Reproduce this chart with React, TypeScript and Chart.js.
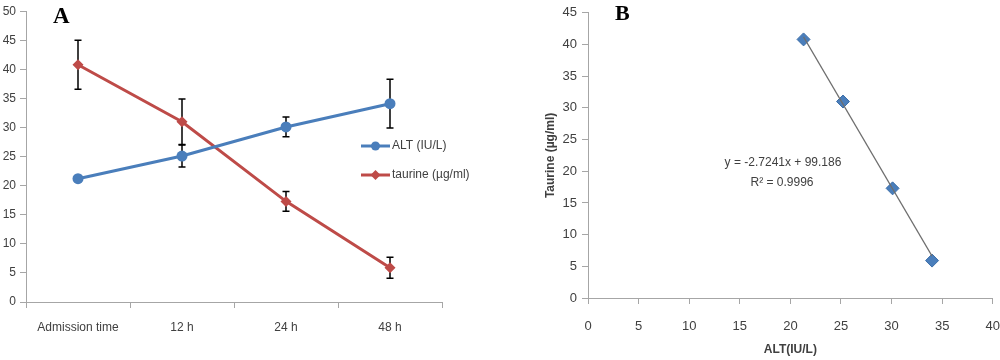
import React, { useEffect, useRef } from "react";
import { Chart, registerables } from "chart.js";

Chart.register(...registerables);

// ---------- Data ----------
const categories = ["Admission time", "12 h", "24 h", "48 h"];
const altValues = [21.2, 25.1, 30.1, 34.1];
const altErrors = [0.3, 1.9, 1.7, 4.2];
const taurineValues = [40.8, 31.0, 17.3, 5.9];
const taurineErrors = [4.2, 3.9, 1.7, 1.8];

const scatterAlt = [21.3, 25.2, 30.1, 34.0];
const scatterTaurine = [40.8, 31.0, 17.3, 5.9];
const trendAlt = [21.3, 34.0];
const trendTaurine = [41.2, 6.6];

const legendLabels = ["ALT (IU/L)", "taurine (µg/ml)"];
const equationText = "y = -2.7241x + 99.186";
const r2Text = "R² = 0.9996";

// ---------- Styles ----------
const FONT = '"Liberation Sans Narrow", "Liberation Sans", Arial, sans-serif';
const SERIF = '"Liberation Serif", "DejaVu Serif", serif';
const BLUE = "#4A7EBB";
const RED = "#BE4B48";
const AXIS = "#A6A6A6";
const TEXT = "#404040";

const errorBarPlugin = {
  id: "errorBars",
  beforeDatasetsDraw(chart: any) {
    const { ctx, scales } = chart;
    const xs = scales.x;
    const ys = scales.y;
    const series = [
      [altValues, altErrors],
      [taurineValues, taurineErrors],
    ];
    ctx.save();
    ctx.strokeStyle = "#000";
    ctx.lineWidth = 1.5;
    series.forEach(([vals, errs]) => {
      vals.forEach((v: number, i: number) => {
        const px = xs.getPixelForValue(i);
        const top = ys.getPixelForValue(v + errs[i]);
        const bot = ys.getPixelForValue(v - errs[i]);
        ctx.beginPath();
        ctx.moveTo(px, top);
        ctx.lineTo(px, bot);
        ctx.moveTo(px - 3.5, top);
        ctx.lineTo(px + 3.5, top);
        ctx.moveTo(px - 3.5, bot);
        ctx.lineTo(px + 3.5, bot);
        ctx.stroke();
      });
    });
    ctx.restore();
  },
};

const legendAPlugin = {
  id: "legendA",
  afterDraw(chart: any) {
    const { ctx } = chart;
    ctx.save();
    const rows = [
      { y: 146, color: BLUE, label: legendLabels[0], shape: "circle" },
      { y: 175, color: RED, label: legendLabels[1], shape: "diamond" },
    ];
    rows.forEach((r) => {
      ctx.strokeStyle = r.color;
      ctx.lineWidth = 3;
      ctx.beginPath();
      ctx.moveTo(361, r.y);
      ctx.lineTo(390, r.y);
      ctx.stroke();
      ctx.fillStyle = r.color;
      ctx.beginPath();
      if (r.shape === "circle") {
        ctx.arc(375.5, r.y, 4.5, 0, Math.PI * 2);
      } else {
        ctx.moveTo(375.5, r.y - 5);
        ctx.lineTo(380.5, r.y);
        ctx.lineTo(375.5, r.y + 5);
        ctx.lineTo(370.5, r.y);
        ctx.closePath();
      }
      ctx.fill();
      ctx.fillStyle = TEXT;
      ctx.font = `12px ${FONT}`;
      ctx.textBaseline = "middle";
      ctx.textAlign = "left";
      ctx.fillText(r.label, 392, r.y);
    });
    ctx.font = `bold 23px ${SERIF}`;
    ctx.fillStyle = "#000";
    ctx.textBaseline = "alphabetic";
    ctx.fillText("A", 53, 23);
    ctx.restore();
  },
};

const labelBPlugin = {
  id: "labelB",
  afterDraw(chart: any) {
    const { ctx } = chart;
    ctx.save();
    ctx.font = `bold 22px ${SERIF}`;
    ctx.fillStyle = "#000";
    ctx.textBaseline = "alphabetic";
    ctx.textAlign = "left";
    ctx.fillText("B", 115, 20);
    ctx.font = `12px ${FONT}`;
    ctx.fillStyle = TEXT;
    ctx.textAlign = "center";
    ctx.textBaseline = "middle";
    ctx.fillText(equationText, 283, 163);
    ctx.fillText(r2Text, 282, 183);
    ctx.restore();
  },
};

export default function App() {
  const refA = useRef<HTMLCanvasElement>(null);
  const refB = useRef<HTMLCanvasElement>(null);

  useEffect(() => {
    const chartA = new Chart(refA.current as HTMLCanvasElement, {
      type: "line",
      data: {
        labels: categories,
        datasets: [
          {
            label: legendLabels[0],
            data: altValues,
            borderColor: BLUE,
            backgroundColor: BLUE,
            borderWidth: 3,
            pointStyle: "circle",
            pointRadius: 5.5,
            pointBorderWidth: 0,
            tension: 0,
          },
          {
            label: legendLabels[1],
            data: taurineValues,
            borderColor: RED,
            backgroundColor: RED,
            borderWidth: 3,
            pointStyle: "rectRot",
            pointRadius: 5.5,
            pointBorderWidth: 0,
            tension: 0,
          },
        ],
      },
      options: {
        animation: false,
        responsive: false,
        maintainAspectRatio: false,
        layout: { padding: { left: 0, top: 7, right: 58, bottom: 0 } },
        plugins: { legend: { display: false }, tooltip: { enabled: false } },
        scales: {
          x: {
            type: "category",
            offset: true,
            grid: {
              display: true,
              drawOnChartArea: false,
              offset: true,
              tickLength: 6,
              color: AXIS,
            },
            border: { color: AXIS, width: 1 },
            ticks: {
              color: TEXT,
              font: { family: FONT, size: 12 },
              padding: 12,
              maxRotation: 0,
            },
            afterFit: (s: any) => {
              s.height = 58;
            },
          },
          y: {
            min: 0,
            max: 50,
            grid: {
              display: true,
              drawOnChartArea: false,
              tickLength: 6,
              color: AXIS,
            },
            border: { color: AXIS, width: 1 },
            ticks: {
              stepSize: 5,
              color: TEXT,
              font: { family: FONT, size: 12 },
              padding: 4,
            },
            afterFit: (s: any) => {
              s.width = 26;
            },
          },
        },
      },
      plugins: [errorBarPlugin, legendAPlugin],
    } as any);

    const chartB = new Chart(refB.current as HTMLCanvasElement, {
      type: "scatter",
      data: {
        datasets: [
          {
            label: "trend",
            type: "line",
            data: trendAlt.map((x, i) => ({ x, y: trendTaurine[i] })),
            borderColor: "#6E6E6E",
            borderWidth: 1.2,
            pointRadius: 0,
            showLine: true,
            tension: 0,
          },
          {
            label: "points",
            data: scatterAlt.map((x, i) => ({ x, y: scatterTaurine[i] })),
            backgroundColor: BLUE,
            borderColor: "#3C6EA8",
            borderWidth: 1,
            pointStyle: "rectRot",
            pointRadius: 6.5,
          },
        ],
      },
      options: {
        animation: false,
        responsive: false,
        maintainAspectRatio: false,
        layout: { padding: { left: 0, top: 8, right: 0, bottom: 0 } },
        plugins: { legend: { display: false }, tooltip: { enabled: false } },
        scales: {
          x: {
            type: "linear",
            min: 0,
            max: 40,
            grid: {
              display: true,
              drawOnChartArea: false,
              tickLength: 6,
              color: AXIS,
            },
            border: { color: AXIS, width: 1 },
            ticks: {
              stepSize: 5,
              color: TEXT,
              font: { family: FONT, size: 13 },
              padding: 15,
              maxRotation: 0,
            },
            title: {
              display: true,
              text: "ALT(IU/L)",
              color: TEXT,
              font: { family: FONT, size: 12, weight: "bold" },
              padding: { top: 0, bottom: 3 },
            },
            afterFit: (s: any) => {
              s.height = 62;
            },
          },
          y: {
            type: "linear",
            min: 0,
            max: 45,
            grid: {
              display: true,
              drawOnChartArea: false,
              tickLength: 6,
              color: AXIS,
            },
            border: { color: AXIS, width: 1 },
            ticks: {
              stepSize: 5,
              color: TEXT,
              font: { family: FONT, size: 13 },
              padding: 5,
            },
            title: {
              display: true,
              text: "Taurine (µg/ml)",
              color: TEXT,
              font: { family: FONT, size: 12, weight: "bold" },
              padding: { top: 43, bottom: 0 },
            },
            afterFit: (s: any) => {
              s.width = 88;
            },
          },
        },
      },
      plugins: [labelBPlugin],
    } as any);

    return () => {
      chartA.destroy();
      chartB.destroy();
    };
  }, []);

  return (
    <div
      style={{
        position: "fixed",
        left: 0,
        top: 0,
        width: 1000,
        height: 360,
        background: "#fff",
        overflow: "hidden",
      }}
    >
      <canvas
        ref={refA}
        width={500}
        height={360}
        style={{ position: "absolute", left: 0, top: 0, width: 500, height: 360 }}
      />
      <canvas
        ref={refB}
        width={515}
        height={360}
        style={{ position: "absolute", left: 500, top: 0, width: 515, height: 360 }}
      />
    </div>
  );
}
